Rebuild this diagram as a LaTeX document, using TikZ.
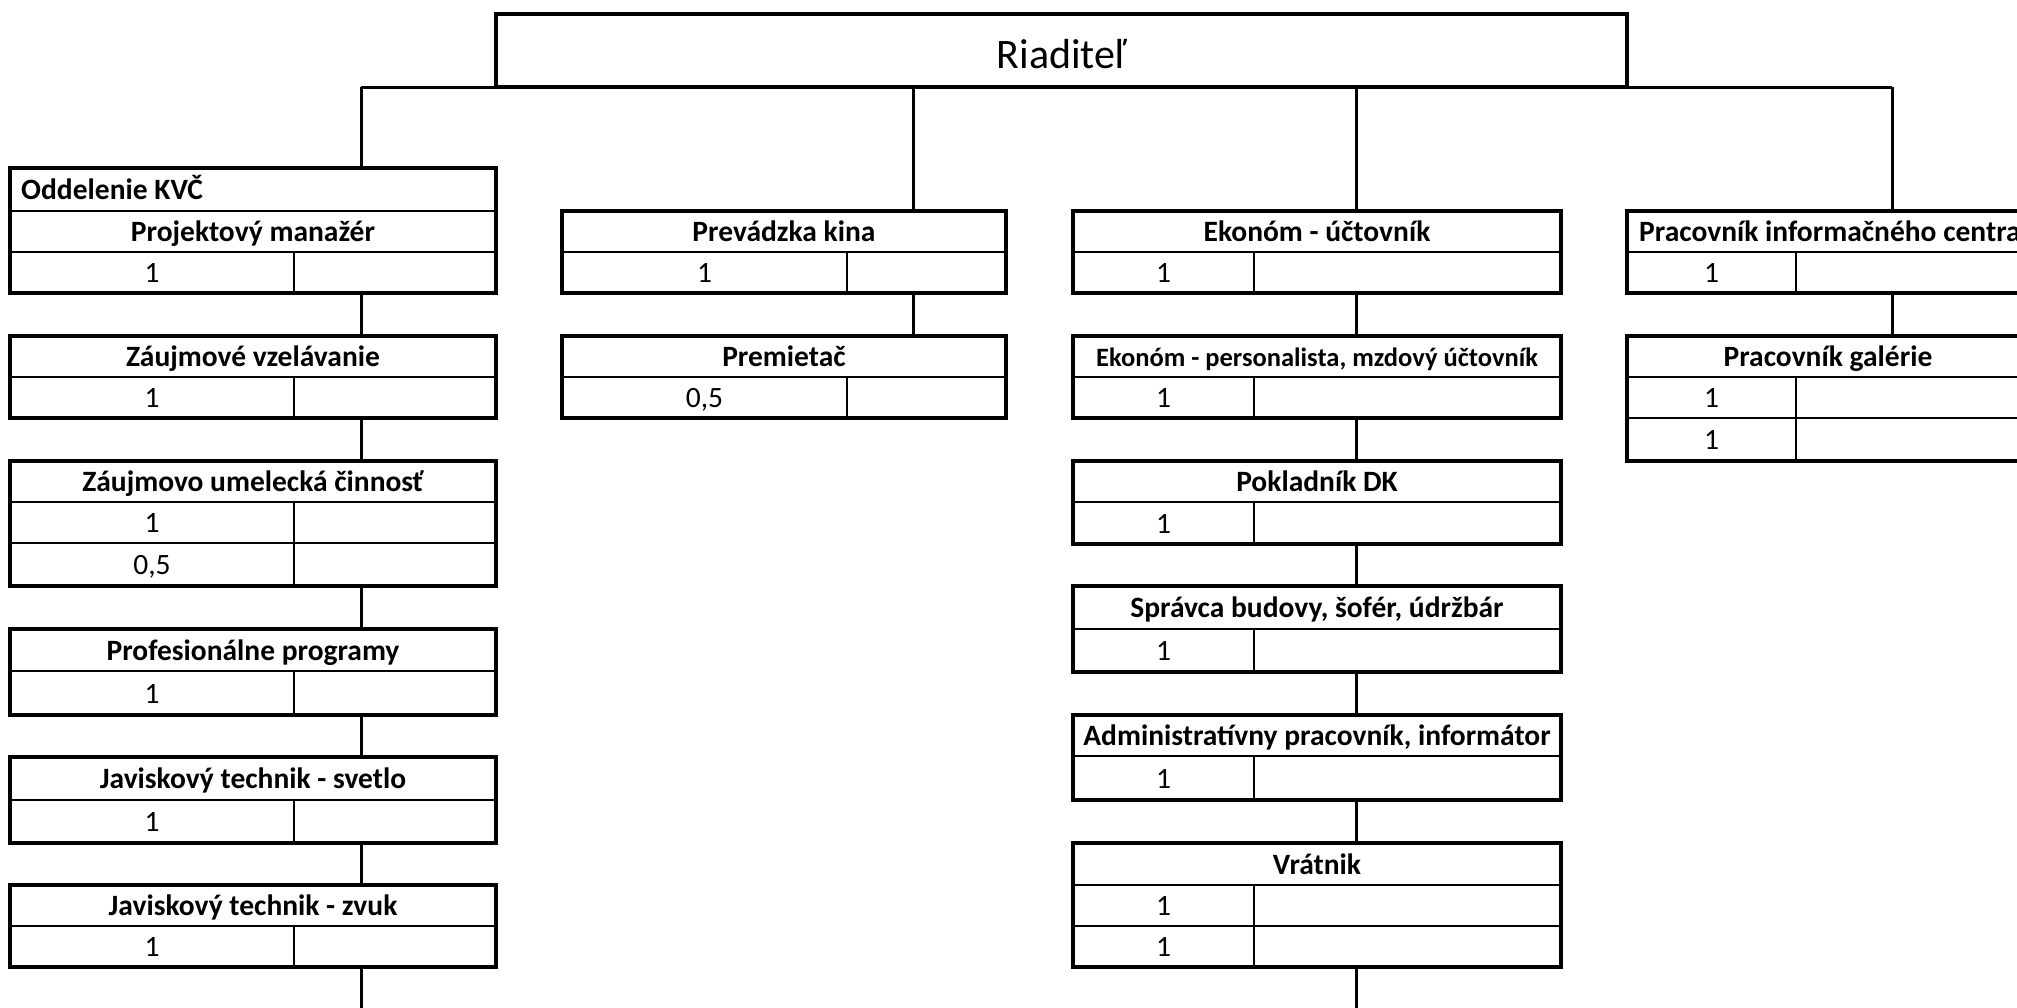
\documentclass[tikz,border=0pt]{standalone}
\usepackage{fontspec}
\setmainfont{Carlito}
\tikzset{
  cellst/.style={draw, line width=1.9pt, inner sep=0pt, outer sep=0pt, anchor=north west,
    text height=23pt, text depth=3pt, font=\fontsize{29.5}{34}\selectfont},
  hdrst/.style={cellst, font=\fontsize{29.5}{34}\selectfont\bfseries},
  hdrsmall/.style={cellst, font=\fontsize{26.5}{30}\selectfont\bfseries},
  frame/.style={draw, line width=3.4pt, line join=miter},
  conn/.style={draw, line width=3pt},
  lbl/.style={anchor=west, inner sep=0pt, text height=23pt, text depth=3pt, font=\fontsize{29.5}{34}\selectfont\bfseries},
}
\newcommand\cell[7]{\node[#1, minimum width={(#4-#3)*1pt}, minimum height={(#6-#5)*1pt}] (#2) at (#3,#5) {#7};}
\newcommand\valrow[8]{\cell{cellst}{#1}{#3}{#4}{#6}{#7}{#8}\cell{cellst}{#2}{#4}{#5}{#6}{#7}{}}
\newcommand\frm[2]{\draw[frame] (#1.north west) rectangle (#2.south east);}
\begin{document}
\begin{tikzpicture}[x=1pt,y=-1pt]
\useasboundingbox (0,0) rectangle (2017,1007);
% column connector positions
\coordinate (cA) at (361,0);
\coordinate (cB) at (913,0);
\coordinate (cC) at (1356,0);
\coordinate (cD) at (1892,0);
\coordinate (endA) at (361,1015);
\coordinate (endC) at (1356,1015);
% Director
\node[draw, line width=3.4pt, inner sep=0pt, outer sep=0pt, anchor=north west,
  minimum width=1131pt, minimum height=73pt, text height=38pt, text depth=2pt,
  font=\fontsize{42}{50}\selectfont] (riad) at (496,14) {Riaditeľ};
% Column A
\cell{cellst}{aT}{10}{496}{168}{211}{}
\node[lbl] (aTt) at (21,189.5) {Oddelenie KVČ};
\cell{hdrst}{a1h}{10}{496}{211}{252}{Projektový manažér}
\valrow{a1v}{a1e}{10}{294}{496}{252}{293}{1}
\frm{aT}{a1e}
\cell{hdrst}{a2h}{10}{496}{336}{377}{Záujmové vzelávanie}
\valrow{a2v}{a2e}{10}{294}{496}{377}{418}{1}
\frm{a2h}{a2e}
\cell{hdrst}{a3h}{10}{496}{461}{502}{Záujmovo umelecká činnosť}
\valrow{a3v}{a3e}{10}{294}{496}{502}{543}{1}
\valrow{a3w}{a3f}{10}{294}{496}{543}{586}{0,5}
\frm{a3h}{a3f}
\cell{hdrst}{a4h}{10}{496}{629}{671}{Profesionálne programy}
\valrow{a4v}{a4e}{10}{294}{496}{671}{715}{1}
\frm{a4h}{a4e}
\cell{hdrst}{a5h}{10}{496}{757}{800}{Javiskový technik - svetlo}
\valrow{a5v}{a5e}{10}{294}{496}{800}{843}{1}
\frm{a5h}{a5e}
\cell{hdrst}{a6h}{10}{496}{885}{926}{Javiskový technik - zvuk}
\valrow{a6v}{a6e}{10}{294}{496}{926}{967}{1}
\frm{a6h}{a6e}
% Column B
\cell{hdrst}{b1h}{562}{1006}{211}{252}{Prevádzka kina}
\valrow{b1v}{b1e}{562}{847}{1006}{252}{293}{1}
\frm{b1h}{b1e}
\cell{hdrst}{b2h}{562}{1006}{336}{377}{Premietač}
\valrow{b2v}{b2e}{562}{847}{1006}{377}{418}{0,5}
\frm{b2h}{b2e}
% Column C
\cell{hdrst}{c1h}{1073}{1561}{211}{252}{Ekonóm - účtovník}
\valrow{c1v}{c1e}{1073}{1254}{1561}{252}{293}{1}
\frm{c1h}{c1e}
\cell{hdrsmall}{c2h}{1073}{1561}{336}{377}{Ekonóm - personalista, mzdový účtovník}
\valrow{c2v}{c2e}{1073}{1254}{1561}{377}{418}{1}
\frm{c2h}{c2e}
\cell{hdrst}{c3h}{1073}{1561}{461}{502}{Pokladník DK}
\valrow{c3v}{c3e}{1073}{1254}{1561}{502}{544}{1}
\frm{c3h}{c3e}
\cell{hdrst}{c4h}{1073}{1561}{586}{629}{Správca budovy, šofér, údržbár}
\valrow{c4v}{c4e}{1073}{1254}{1561}{629}{672}{1}
\frm{c4h}{c4e}
\cell{hdrst}{c5h}{1073}{1561}{715}{756}{Administratívny pracovník, informátor}
\valrow{c5v}{c5e}{1073}{1254}{1561}{756}{800}{1}
\frm{c5h}{c5e}
\cell{hdrst}{c6h}{1073}{1561}{843}{885}{Vrátnik}
\valrow{c6v}{c6e}{1073}{1254}{1561}{885}{926}{1}
\valrow{c6w}{c6f}{1073}{1254}{1561}{926}{967}{1}
\frm{c6h}{c6f}
% Column D
\cell{cellst}{d1h}{1627}{2029}{211}{252}{}
\node[lbl] (d1t) at (1639,231.5) {Pracovník informačného centra};
\valrow{d1v}{d1e}{1627}{1796}{2029}{252}{293}{1}
\frm{d1h}{d1e}
\cell{hdrst}{d2h}{1627}{2029}{336}{377}{Pracovník galérie}
\valrow{d2v}{d2e}{1627}{1796}{2029}{377}{418}{1}
\valrow{d2w}{d2f}{1627}{1796}{2029}{418}{461}{1}
\frm{d2h}{d2f}
% bus and drops
\draw[conn] (riad.south -| cA) -- (riad.south -| cD);
\draw[conn] (riad.south -| cA) -- (aT.north -| cA);
\draw[conn] (riad.south -| cB) -- (b1h.north -| cB);
\draw[conn] (riad.south -| cC) -- (c1h.north -| cC);
\draw[conn] (riad.south -| cD) -- (d1h.north -| cD);
% vertical chains
\draw[conn] (a1v.south -| cA) -- (a2h.north -| cA);
\draw[conn] (a2v.south -| cA) -- (a3h.north -| cA);
\draw[conn] (a3w.south -| cA) -- (a4h.north -| cA);
\draw[conn] (a4v.south -| cA) -- (a5h.north -| cA);
\draw[conn] (a5v.south -| cA) -- (a6h.north -| cA);
\draw[conn] (a6v.south -| cA) -- (endA);
\draw[conn] (b1v.south -| cB) -- (b2h.north -| cB);
\draw[conn] (c1v.south -| cC) -- (c2h.north -| cC);
\draw[conn] (c2v.south -| cC) -- (c3h.north -| cC);
\draw[conn] (c3v.south -| cC) -- (c4h.north -| cC);
\draw[conn] (c4v.south -| cC) -- (c5h.north -| cC);
\draw[conn] (c5v.south -| cC) -- (c6h.north -| cC);
\draw[conn] (c6w.south -| cC) -- (endC);
\draw[conn] (d1v.south -| cD) -- (d2h.north -| cD);
\end{tikzpicture}
\end{document}
